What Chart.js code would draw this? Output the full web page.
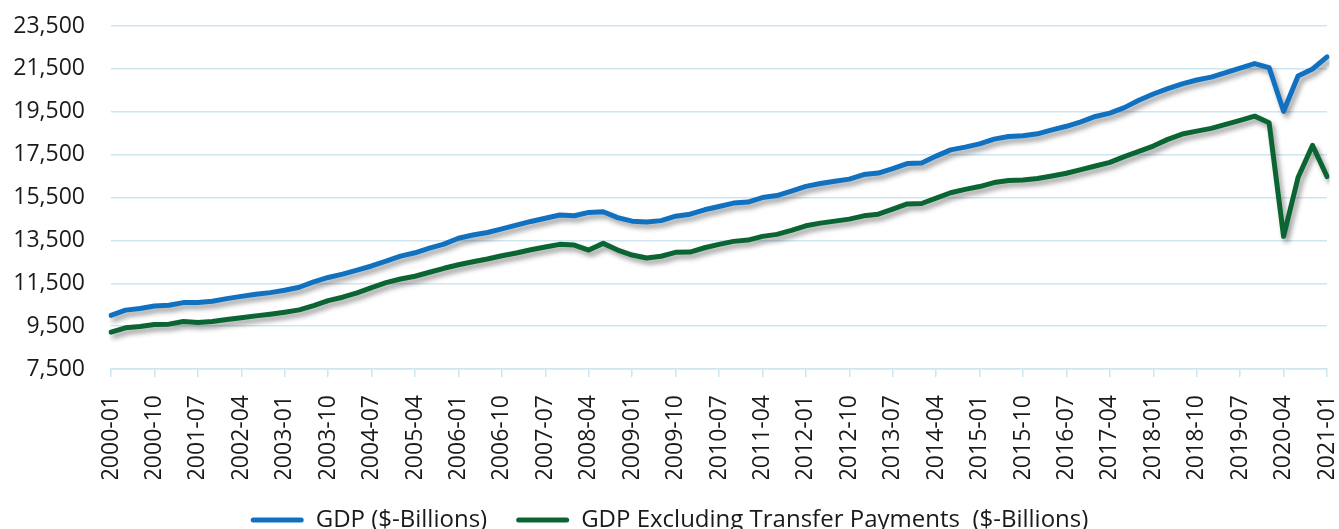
<!DOCTYPE html>
<html>
<head>
<meta charset="utf-8">
<script src="https://cdn.jsdelivr.net/npm/chart.js@4/dist/chart.umd.min.js"></script>
<style>
  html, body { margin: 0; padding: 0; background: #fff; overflow: hidden; }
  #wrap { width: 1339px; height: 529px; overflow: hidden; position: relative; }
  #box { width: 1339px; height: 542px; position: relative; }
</style>
</head>
<body>
<div id="wrap"><div id="box"><canvas id="gdpChart"></canvas></div></div>
<script>
// quarters, 2000-01 .. 2021-01
var quarters = [
  "2000-01","2000-04","2000-07","2000-10","2001-01","2001-04","2001-07","2001-10",
  "2002-01","2002-04","2002-07","2002-10","2003-01","2003-04","2003-07","2003-10",
  "2004-01","2004-04","2004-07","2004-10","2005-01","2005-04","2005-07","2005-10",
  "2006-01","2006-04","2006-07","2006-10","2007-01","2007-04","2007-07","2007-10",
  "2008-01","2008-04","2008-07","2008-10","2009-01","2009-04","2009-07","2009-10",
  "2010-01","2010-04","2010-07","2010-10","2011-01","2011-04","2011-07","2011-10",
  "2012-01","2012-04","2012-07","2012-10","2013-01","2013-04","2013-07","2013-10",
  "2014-01","2014-04","2014-07","2014-10","2015-01","2015-04","2015-07","2015-10",
  "2016-01","2016-04","2016-07","2016-10","2017-01","2017-04","2017-07","2017-10",
  "2018-01","2018-04","2018-07","2018-10","2019-01","2019-04","2019-07","2019-10",
  "2020-01","2020-04","2020-07","2020-10","2021-01"
];

// GDP ($-Billions)
var gdp = [
  10002, 10247, 10319, 10439, 10472, 10597, 10597, 10660,
  10784, 10887, 10985, 11062, 11175, 11312, 11567, 11770,
  11923, 12112, 12305, 12528, 12767, 12922, 13142, 13324,
  13600, 13750, 13868, 14038, 14209, 14383, 14535, 14681,
  14651, 14805, 14835, 14559, 14395, 14352, 14421, 14628,
  14721, 14926, 15080, 15240, 15285, 15496, 15592, 15796,
  16020, 16152, 16257, 16358, 16570, 16638, 16849, 17083,
  17105, 17432, 17722, 17850, 18003, 18224, 18347, 18379,
  18470, 18656, 18822, 19032, 19280, 19438, 19693, 20038,
  20328, 20580, 20799, 20980, 21116, 21330, 21540, 21747,
  21561, 19520, 21170, 21494, 22061
];

// GDP excluding transfer payments ($-Billions)
var gdpExTransfers = [
  9221, 9421, 9482, 9575, 9593, 9714, 9667, 9714,
  9807, 9886, 9979, 10058, 10151, 10258, 10458, 10691,
  10849, 11049, 11300, 11528, 11700, 11826, 12012, 12198,
  12365, 12505, 12630, 12784, 12909, 13063, 13188, 13314,
  13281, 13049, 13360, 13049, 12816, 12680, 12760, 12942,
  12956, 13156, 13314, 13453, 13514, 13686, 13779, 13965,
  14179, 14305, 14398, 14491, 14644, 14723, 14956, 15202,
  15221, 15467, 15720, 15880, 16010, 16197, 16290, 16319,
  16384, 16505, 16630, 16802, 16970, 17142, 17407, 17653,
  17900, 18211, 18460, 18597, 18723, 18909, 19095, 19295,
  18988, 13686, 16431, 17932, 16477
];

var seriesNames = ["GDP ($-Billions)", "GDP Excluding Transfer Payments  ($-Billions)"];
var seriesColors = ["#1171c1", "#0b6533"];

var gridColor = "#cfe6f1";
var fontFamily = "'Open Sans', 'Noto Sans', sans-serif";

// drop shadow under the lines
var shadowPlugin = {
  id: "lineShadow",
  beforeDatasetDraw: function (chart) {
    var ctx = chart.ctx;
    ctx.save();
    ctx.shadowColor = "rgba(0,0,0,0.38)";
    ctx.shadowBlur = 5;
    ctx.shadowOffsetX = 3;
    ctx.shadowOffsetY = 4;
  },
  afterDatasetDraw: function (chart) {
    chart.ctx.restore();
  }
};

var ctx = document.getElementById("gdpChart").getContext("2d");
new Chart(ctx, {
  type: "line",
  data: {
    labels: quarters,
    datasets: [
      {
        label: seriesNames[0],
        data: gdp,
        borderColor: seriesColors[0],
        backgroundColor: seriesColors[0],
        borderWidth: 5,
        pointRadius: 0,
        tension: 0,
        borderCapStyle: "round",
        borderJoinStyle: "round",
        fill: false
      },
      {
        label: seriesNames[1],
        data: gdpExTransfers,
        borderColor: seriesColors[1],
        backgroundColor: seriesColors[1],
        borderWidth: 5,
        pointRadius: 0,
        tension: 0,
        borderCapStyle: "round",
        borderJoinStyle: "round",
        fill: false
      }
    ]
  },
  options: {
    responsive: true,
    maintainAspectRatio: false,
    animation: false,
    layout: {
      padding: { left: 12, right: 12, top: 26, bottom: 0 }
    },
    scales: {
      x: {
        grid: {
          drawOnChartArea: false,
          tickLength: 8,
          lineWidth: 1.5,
          tickColor: function (c) {
            return c.index % 3 === 0 ? gridColor : "rgba(0,0,0,0)";
          }
        },
        border: { display: true, color: gridColor, width: 1.5 },
        ticks: {
          autoSkip: false,
          minRotation: 90,
          maxRotation: 90,
          padding: 18,
          color: "#1a1a1a",
          font: { family: fontFamily, size: 23 },
          callback: function (val, i) {
            return i % 3 === 0 ? quarters[i] : "";
          }
        },
        afterFit: function (scale) {
          scale.height = 110;
          scale.paddingLeft = 0;
          scale.paddingRight = 0;
        }
      },
      y: {
        min: 7500,
        max: 23500,
        grid: {
          color: gridColor,
          lineWidth: 1.5,
          drawTicks: false
        },
        border: { display: false },
        ticks: {
          stepSize: 2000,
          padding: 26,
          color: "#1a1a1a",
          font: { family: fontFamily, size: 23 },
          callback: function (v) {
            return v.toLocaleString("en-US");
          }
        },
        afterFit: function (scale) {
          scale.width = 99;
          scale.paddingTop = 0;
          scale.paddingBottom = 0;
        }
      }
    },
    plugins: {
      tooltip: { enabled: false },
      legend: {
        position: "bottom",
        labels: {
          boxWidth: 53,
          boxHeight: 5,
          padding: 29,
          color: "#1a1a1a",
          font: { family: fontFamily, size: 24 },
          generateLabels: function (chart) {
            var items = Chart.defaults.plugins.legend.labels.generateLabels(chart);
            items.forEach(function (it) {
              it.lineWidth = 0;
              it.borderRadius = 2.5;
            });
            return items;
          },
          useBorderRadius: true,
          borderRadius: 2.5
        }
      }
    }
  },
  plugins: [shadowPlugin]
});
</script>
</body>
</html>
